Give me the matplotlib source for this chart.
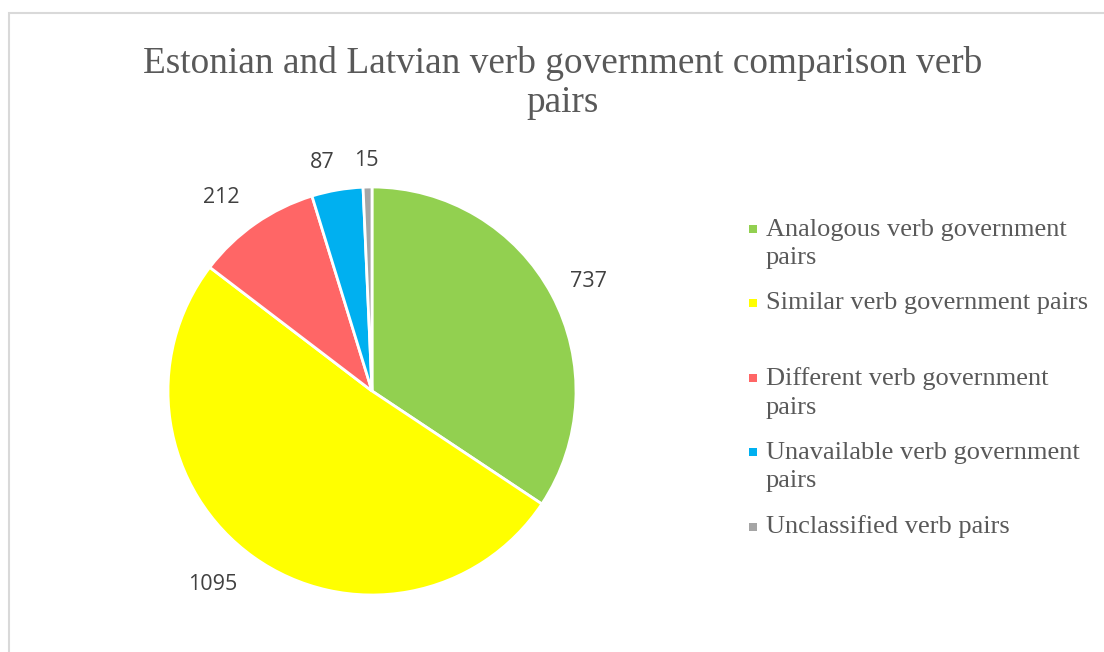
import matplotlib.pyplot as plt
from matplotlib.patches import Rectangle

categories = ["Analogous verb government\npairs",
              "Similar verb government pairs",
              "Different verb government\npairs",
              "Unavailable verb government\npairs",
              "Unclassified verb pairs"]
counts = [737, 1095, 212, 87, 15]
colors = ["#92D050", "#FFFF00", "#FF6666", "#00B0F0", "#A5A5A5"]

# where each value label sits, in pie-radius units
label_pos = [(1.06, 0.535), (-0.78, -0.95), (-0.74, 0.95), (-0.245, 1.12), (-0.03, 1.13)]
# legend rows: centre of each entry (figure px from top)
legend_y = [244, 303, 393, 467, 527]

W, H = 1104, 652
fig = plt.figure(figsize=(W / 100, H / 100), dpi=100)

# light frame around the chart area
fig.patches.append(Rectangle((9 / W, -0.1), 1.2, (H - 13) / H + 0.1, transform=fig.transFigure,
                             fill=False, edgecolor="#D9D9D9", linewidth=1.5))

cx, cy, r = 372, 391, 204
ax = fig.add_axes([(cx - r) / W, (H - cy - r) / H, 2 * r / W, 2 * r / H])
ax.pie(counts, colors=colors, startangle=90, counterclock=False,
       wedgeprops=dict(edgecolor="white", linewidth=2))
ax.set_xlim(-1, 1)
ax.set_ylim(-1, 1)
ax.axis("off")

for v, (x, y) in zip(counts, label_pos):
    ax.text(x, y, str(v), ha="center", va="center", fontsize=15.5,
            family="Open Sans", color="#404040", clip_on=False)

fig.text(563 / W, 1 - 83 / H, "Estonian and Latvian verb government comparison verb\npairs",
         ha="center", va="center", fontsize=26.8, family="Liberation Serif",
         color="#595959", linespacing=1.15)

for name, c, y in zip(categories, colors, legend_y):
    first = y - (15 if "\n" in name else 0)
    fig.patches.append(Rectangle((749 / W, 1 - (first + 4) / H), 8 / W, 8 / H,
                                 transform=fig.transFigure, facecolor=c, edgecolor="none"))
    fig.text(766 / W, 1 - y / H, name, ha="left", va="center",
             fontsize=19, family="Liberation Serif", color="#595959", linespacing=1.4)

fig.savefig("out.png", dpi=100)
